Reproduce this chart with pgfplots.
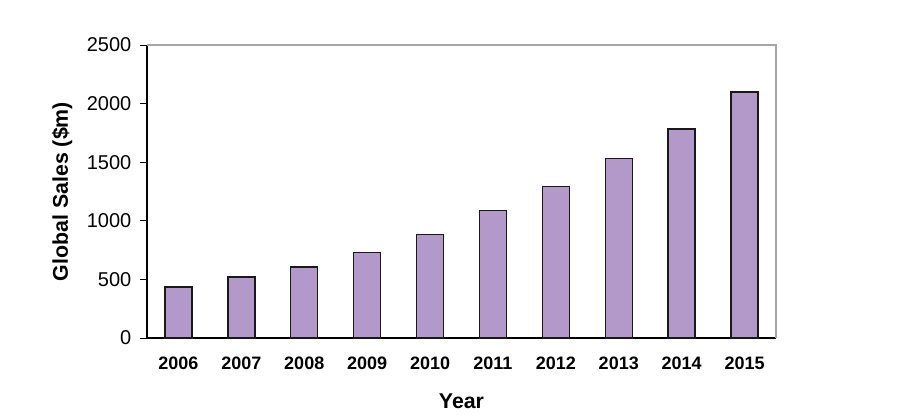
\documentclass[border=0pt]{standalone}
\usepackage{pgfplots}
\pgfplotsset{compat=1.18}
\usepackage{fontspec}
\setmainfont{Liberation Sans}
\definecolor{barfill}{RGB}{179,153,201}
\begin{document}
\begin{tikzpicture}
\path[use as bounding box] (0,0) rectangle (690pt,312pt);
\begin{axis}[
  at={(110.25pt,58.5pt)}, anchor=south west,
  scale only axis, width=471.75pt, height=219.75pt,
  xmin=-0.5, xmax=9.5, ymin=0, ymax=2500,
  axis x line*=bottom, axis y line*=left,
  axis line style={black, line width=0.8pt},
  xtick={0,...,9},
  xticklabels={2006,2007,2008,2009,2010,2011,2012,2013,2014,2015},
  x tick label style={font=\fontsize{13.5}{14}\selectfont\bfseries, yshift=-5.5pt},
  xtick style={draw=none},
  minor xtick={-0.5,0.5,...,9.5},
  minor x tick style={black, line width=0.6pt},
  ytick={0,500,...,2500},
  y tick label style={font=\fontsize{15}{16}\selectfont, xshift=-3pt},
  ytick style={black, line width=0.6pt},
  tick align=outside,
  major tick length=5.25pt, minor tick length=5.25pt,
  /pgf/number format/assume math mode=true,
  /pgf/number format/1000 sep={},
  xlabel={Year}, ylabel={Global Sales (\$m)},
  xlabel style={font=\fontsize{16}{17}\selectfont\bfseries, yshift=-11pt},
  ylabel style={font=\fontsize{16}{17}\selectfont\bfseries, yshift=4pt},
  clip=false,
]
\draw[gray!70, line width=0.8pt] (rel axis cs:0,1) -- (rel axis cs:1,1) -- (rel axis cs:1,0);
\addplot[ybar, bar width=20.25pt, fill=barfill, draw=black!90, line width=1.1pt] coordinates {
 (0,435) (1,520) (2,605) (3,728) (4,885) (5,1090) (6,1292) (7,1532) (8,1782) (9,2100)
};
\end{axis}
\end{tikzpicture}
\end{document}
